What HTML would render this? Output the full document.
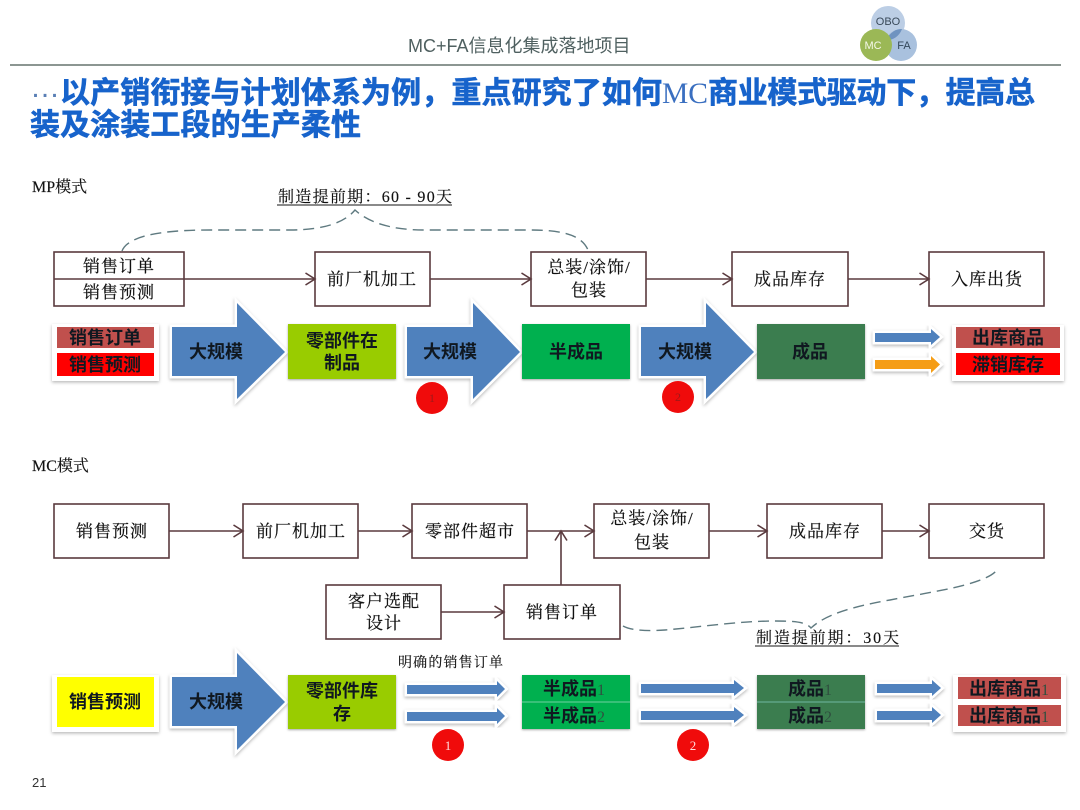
<!DOCTYPE html>
<html><head><meta charset="utf-8">
<style>
html,body{margin:0;padding:0;background:#fff;width:1080px;height:810px;overflow:hidden}
svg{display:block}
.s{font-family:"Liberation Serif","Noto Serif CJK SC",serif;font-size:17px;fill:#111;stroke:#111;stroke-width:.2;text-anchor:middle;letter-spacing:1px}
.b{font-family:"Liberation Sans","Noto Sans CJK SC",sans-serif;font-size:18px;font-weight:700;fill:#101820;text-anchor:middle}
.box{fill:#fff;stroke:#5a3a3e;stroke-width:1.6}
.ln{stroke:#5a3a3e;stroke-width:1.6;fill:none}
.dash{stroke:#5f7a80;stroke-width:1.4;fill:none;stroke-dasharray:11 6}
.sm{font-weight:400;font-size:16px;fill:#2f4f3f;font-family:"Liberation Serif",serif}
.t{font-family:"Liberation Sans","Noto Sans CJK SC",sans-serif;font-size:30px;font-weight:700;fill:#1763cb;stroke:#1763cb;stroke-width:.6}
.ar{stroke:#fff;stroke-width:5;stroke-linejoin:miter;paint-order:stroke;filter:url(#sh)}
.card{fill:#fff;filter:url(#sh)}
.rect{filter:url(#sh2)}
.lab{font-family:"Liberation Serif","Noto Serif CJK SC",serif;fill:#111;stroke:#111;stroke-width:.15}
</style></head><body>
<svg width="1080" height="810" viewBox="0 0 1080 810" xmlns="http://www.w3.org/2000/svg">
<defs>
<filter id="sh" x="-20%" y="-20%" width="140%" height="140%"><feDropShadow dx="0" dy="1.5" stdDeviation="1.5" flood-color="#000" flood-opacity=".28"/></filter>
<filter id="sh2" x="-10%" y="-10%" width="120%" height="120%"><feDropShadow dx="0" dy="1" stdDeviation="1" flood-color="#000" flood-opacity=".35"/></filter>
<marker id="a" markerWidth="12" markerHeight="14" refX="10.5" refY="7" orient="auto" markerUnits="userSpaceOnUse"><path d="M1 1 L10.5 7 L1 13" fill="none" stroke="#5a3a3e" stroke-width="1.6"/></marker>
</defs>

<!-- header -->
<text x="408" y="52" style="font-family:'Liberation Sans','Noto Sans CJK SC',sans-serif;font-size:18px;fill:#4f6060">MC+FA信息化集成落地项目</text>
<line x1="10" y1="65" x2="1061" y2="65" stroke="#66736f" stroke-width="1.5"/>
<circle cx="888" cy="23" r="17" fill="#bccee5"/>
<circle cx="901" cy="45" r="16" fill="#a9c1de"/>
<path d="M890 39.9 A17 17 0 0 0 902 29 A16 16 0 0 0 888 37 Z" fill="#6f93c0"/>
<circle cx="876" cy="45" r="16" fill="#9bb856"/>
<text x="888" y="25" text-anchor="middle" style="font-family:'Liberation Sans',sans-serif;font-size:11px;fill:#3a4a5a">OBO</text>
<text x="873" y="49" text-anchor="middle" style="font-family:'Liberation Sans',sans-serif;font-size:11px;fill:#f4f8e8">MC</text>
<text x="904" y="49" text-anchor="middle" style="font-family:'Liberation Sans',sans-serif;font-size:11px;fill:#33475a">FA</text>

<!-- title -->
<text x="30" y="97" style="font-family:'Liberation Sans',sans-serif;font-size:30px;fill:#5a7fb5">…</text>
<text class="t" x="60" y="103" textLength="602" lengthAdjust="spacing">以产销衔接与计划体系为例，重点研究了如何</text>
<text x="662" y="103" textLength="46" lengthAdjust="spacingAndGlyphs" style="font-family:'Liberation Serif',serif;font-size:30px;fill:#3a6fc0">MC</text>
<text class="t" x="708" y="103" textLength="327" lengthAdjust="spacing">商业模式驱动下，提高总</text>
<text class="t" x="30" y="135" textLength="331" lengthAdjust="spacing">装及涂装工段的生产柔性</text>

<!-- MP -->
<text class="lab" x="32" y="192" style="font-size:16px">MP模式</text>
<text class="lab" x="278" y="202" textLength="174" lengthAdjust="spacing" style="font-size:16px">制造提前期：60 - 90天</text>
<line x1="277" y1="205" x2="452" y2="205" stroke="#444" stroke-width="1.2"/>
<path class="dash" d="M122 251 C128 236 160 230 210 230 L290 230 C325 230 345 222 355 210 C368 222 390 230 425 230 L530 230 C565 230 582 236 588 250"/>

<rect class="box" x="54" y="252" width="130" height="54"/>
<line class="ln" x1="54" y1="279" x2="184" y2="279"/>
<text class="s" x="119" y="272">销售订单</text>
<text class="s" x="119" y="298">销售预测</text>
<rect class="box" x="315" y="252" width="115" height="54"/>
<text class="s" x="372" y="285">前厂机加工</text>
<rect class="box" x="531" y="252" width="115" height="54"/>
<text class="s" x="589" y="273">总装/涂饰/</text>
<text class="s" x="589" y="296">包装</text>
<rect class="box" x="732" y="252" width="116" height="54"/>
<text class="s" x="790" y="285">成品库存</text>
<rect class="box" x="929" y="252" width="115" height="54"/>
<text class="s" x="987" y="285">入库出货</text>
<line class="ln" x1="184" y1="279" x2="315" y2="279" marker-end="url(#a)"/>
<line class="ln" x1="430" y1="279" x2="531" y2="279" marker-end="url(#a)"/>
<line class="ln" x1="646" y1="279" x2="732" y2="279" marker-end="url(#a)"/>
<line class="ln" x1="848" y1="279" x2="929" y2="279" marker-end="url(#a)"/>

<rect class="card" x="52" y="324" width="107" height="57"/>
<rect x="57" y="327" width="97" height="21" fill="#c0504d"/>
<rect x="57" y="353" width="97" height="23" fill="#ff0000"/>
<text class="b" x="105" y="344">销售订单</text>
<text class="b" x="105" y="371">销售预测</text>
<polygon class="ar" points="172,327 237,327 237,303 285,352 237,399 237,376 172,376" fill="#4f81bd"/>
<text class="b" x="216" y="358">大规模</text>
<rect class="rect" x="288" y="324" width="108" height="55" fill="#99cc00"/>
<text class="b" x="342" y="347">零部件在</text>
<text class="b" x="342" y="369">制品</text>
<polygon class="ar" points="407,327 473,327 473,303 520,352 473,399 473,376 407,376" fill="#4f81bd"/>
<text class="b" x="450" y="358">大规模</text>
<rect class="rect" x="522" y="324" width="108" height="55" fill="#00b050"/>
<text class="b" x="576" y="358">半成品</text>
<polygon class="ar" points="641,327 706,327 706,303 754,352 706,399 706,376 641,376" fill="#4f81bd"/>
<text class="b" x="685" y="358">大规模</text>
<rect class="rect" x="757" y="324" width="108" height="55" fill="#3a7d4f"/>
<text class="b" x="810" y="358">成品</text>
<circle cx="432" cy="398" r="16" fill="#f00b0b"/>
<text x="432" y="402" text-anchor="middle" style="font-family:'Liberation Serif',serif;font-size:12px;fill:#a01818">1</text>
<circle cx="678" cy="397" r="16" fill="#f00b0b"/>
<text x="678" y="401" text-anchor="middle" style="font-family:'Liberation Serif',serif;font-size:12px;fill:#a01818">2</text>
<polygon class="ar" points="875,333 931,333 931,329 940,337 931,345 931,342 875,342" fill="#4f81bd"/>
<polygon class="ar" points="875,360 931,360 931,356 940,364.500 931,373 931,369 875,369" fill="#f59d12"/>
<rect class="card" x="952" y="325" width="112" height="56"/>
<rect x="956" y="327" width="104" height="21" fill="#c0504d"/>
<rect x="956" y="353" width="104" height="22" fill="#ff0000"/>
<text class="b" x="1008" y="344">出库商品</text>
<text class="b" x="1008" y="371">滞销库存</text>

<!-- MC -->
<text class="lab" x="32" y="471" style="font-size:16px">MC模式</text>
<rect class="box" x="54" y="504" width="115" height="54"/>
<text class="s" x="112" y="537">销售预测</text>
<rect class="box" x="243" y="504" width="115" height="54"/>
<text class="s" x="301" y="537">前厂机加工</text>
<rect class="box" x="412" y="504" width="115" height="54"/>
<text class="s" x="470" y="537">零部件超市</text>
<rect class="box" x="594" y="504" width="115" height="54"/>
<text class="s" x="652" y="524">总装/涂饰/</text>
<text class="s" x="652" y="548">包装</text>
<rect class="box" x="767" y="504" width="115" height="54"/>
<text class="s" x="825" y="537">成品库存</text>
<rect class="box" x="929" y="504" width="115" height="54"/>
<text class="s" x="987" y="537">交货</text>
<rect class="box" x="326" y="585" width="115" height="54"/>
<text class="s" x="384" y="607">客户选配</text>
<text class="s" x="384" y="629">设计</text>
<rect class="box" x="504" y="585" width="116" height="54"/>
<text class="s" x="562" y="618">销售订单</text>
<line class="ln" x1="169" y1="531" x2="243" y2="531" marker-end="url(#a)"/>
<line class="ln" x1="358" y1="531" x2="412" y2="531" marker-end="url(#a)"/>
<line class="ln" x1="527" y1="531" x2="594" y2="531" marker-end="url(#a)"/>
<line class="ln" x1="709" y1="531" x2="767" y2="531" marker-end="url(#a)"/>
<line class="ln" x1="882" y1="531" x2="929" y2="531" marker-end="url(#a)"/>
<line class="ln" x1="441" y1="612" x2="504" y2="612" marker-end="url(#a)"/>
<line class="ln" x1="561" y1="585" x2="561" y2="531" marker-end="url(#a)"/>
<path class="dash" d="M623 626 C632 631 650 631 665 630 C700 627 740 621 775 621 C795 621 806 622 811 628 C825 615 850 607 890 600 C930 592 985 585 997 570"/>
<text class="lab" x="756" y="643" textLength="143" lengthAdjust="spacing" style="font-size:16px">制造提前期：30天</text>
<line x1="755" y1="646" x2="899" y2="646" stroke="#444" stroke-width="1.2"/>
<text class="lab" x="398" y="667" textLength="105" lengthAdjust="spacing" style="font-size:14px">明确的销售订单</text>

<rect class="card" x="52" y="675" width="107" height="57"/>
<rect x="57" y="677" width="97" height="50" fill="#ffff00"/>
<text class="b" x="105" y="708">销售预测</text>
<polygon class="ar" points="172,677 237,677 237,653 285,702 237,750 237,726 172,726" fill="#4f81bd"/>
<text class="b" x="216" y="708">大规模</text>
<rect class="rect" x="288" y="675" width="108" height="54" fill="#99cc00"/>
<text class="b" x="342" y="697">零部件库</text>
<text class="b" x="342" y="720">存</text>

<polygon class="ar" points="407,685 497,685 497,681 505,689 497,697 497,694 407,694" fill="#4f81bd"/>
<polygon class="ar" points="407,712 497,712 497,708 505,716 497,724 497,721 407,721" fill="#4f81bd"/>
<rect class="rect" x="522" y="675" width="108" height="54" fill="#00b050"/>
<line x1="522" y1="702" x2="630" y2="702" stroke="#6fd0a0" stroke-width="1"/>
<text class="b" x="574" y="695">半成品<tspan class="sm">1</tspan></text>
<text class="b" x="574" y="722">半成品<tspan class="sm">2</tspan></text>
<polygon class="ar" points="641,684 734,684 734,680 744,688 734,696 734,693 641,693" fill="#4f81bd"/>
<polygon class="ar" points="641,711 734,711 734,707 744,715 734,723 734,720 641,720" fill="#4f81bd"/>
<rect class="rect" x="757" y="675" width="108" height="54" fill="#3a7d4f"/>
<line x1="757" y1="702" x2="865" y2="702" stroke="#6fb8a0" stroke-width="1"/>
<text class="b" x="810" y="695">成品<tspan class="sm">1</tspan></text>
<text class="b" x="810" y="722">成品<tspan class="sm">2</tspan></text>
<polygon class="ar" points="877,684 932,684 932,680 941,688 932,696 932,693 877,693" fill="#4f81bd"/>
<polygon class="ar" points="877,711 932,711 932,707 941,715 932,723 932,720 877,720" fill="#4f81bd"/>
<rect class="card" x="953" y="675" width="113" height="57"/>
<rect x="958" y="677" width="103" height="22" fill="#c0504d"/>
<rect x="958" y="705" width="103" height="21" fill="#c0504d"/>
<text class="b" x="1009" y="695">出库商品<tspan class="sm">1</tspan></text>
<text class="b" x="1009" y="722">出库商品<tspan class="sm">1</tspan></text>
<circle cx="448" cy="745" r="16" fill="#f00b0b"/>
<text x="448" y="750" text-anchor="middle" style="font-family:'Liberation Serif',serif;font-size:13px;fill:#fdd">1</text>
<circle cx="693" cy="745" r="16" fill="#f00b0b"/>
<text x="693" y="750" text-anchor="middle" style="font-family:'Liberation Serif',serif;font-size:13px;fill:#fdd">2</text>

<text x="32" y="787" style="font-family:'Liberation Sans',sans-serif;font-size:13px;fill:#333">21</text>
</svg>
</body></html>
